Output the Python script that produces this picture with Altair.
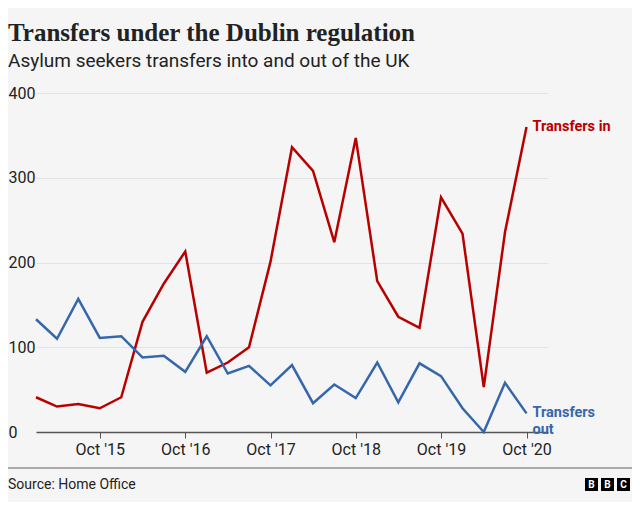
import altair as alt
import pandas as pd

# ---- data ----
quarters = [
    "2015-01-01", "2015-04-01", "2015-07-01", "2015-10-01",
    "2016-01-01", "2016-04-01", "2016-07-01", "2016-10-01",
    "2017-01-01", "2017-04-01", "2017-07-01", "2017-10-01",
    "2018-01-01", "2018-04-01", "2018-07-01", "2018-10-01",
    "2019-01-01", "2019-04-01", "2019-07-01", "2019-10-01",
    "2020-01-01", "2020-04-01", "2020-07-01", "2020-10-01",
]
transfers_in = [41, 30, 33, 28, 41, 130, 175, 213, 70, 82, 100, 201,
                336, 308, 224, 347, 178, 136, 123, 277, 234, 53, 236, 360]
transfers_out = [133, 110, 157, 111, 113, 88, 90, 71, 113, 69, 78, 55,
                 79, 34, 56, 40, 82, 35, 81, 66, 28, 0, 58, 22]
series_names = ["Transfers in", "Transfers out"]
series_labels = ["Transfers in", "Transfers\nout"]
series_colors = ["#b80000", "#3567ab"]
y_ticks = [0, 100, 200, 300, 400]
tick_years = [2015, 2016, 2017, 2018, 2019, 2020]
logo_letters = ["B", "B", "C"]

title_text = "Transfers under the Dublin regulation"
subtitle_text = "Asylum seekers transfers into and out of the UK"
source_text = "Source: Home Office"

# ---- tables ----
df = pd.concat([
    pd.DataFrame({"date": quarters, "value": transfers_in, "series": series_names[0]}),
    pd.DataFrame({"date": quarters, "value": transfers_out, "series": series_names[1]}),
])
end_df = pd.DataFrame({
    "date": [quarters[-1], quarters[-1]],
    "value": [transfers_in[-1], transfers_out[-1]],
    "series": series_names,
    "label": series_labels,
})
one = pd.DataFrame({"k": [0]})

W, H = 512, 339
PAD_L, PAD_T = 28, 85
SANS = "Roboto"

x_scale = alt.Scale(
    type="utc",
    domain=[alt.DateTime(year=2015, month=1, date=1, utc=True),
            alt.DateTime(year=2021, month=1, date=1, utc=True)],
)
y_scale = alt.Scale(domain=[0, 400])
color_scale = alt.Scale(domain=series_names, range=series_colors)

x_axis = alt.Axis(
    values=[alt.DateTime(year=y, month=10, date=1, utc=True) for y in tick_years],
    labelExpr="utcFormat(datum.value, \"%b '%y\")",
    grid=False, domainColor="#555555", domainWidth=1.5,
    tickColor="#555555", tickSize=6, labelPadding=3,
    labelFont=SANS, labelFontSize=16, labelColor="#222222", title=None,
)
y_axis = alt.Axis(
    values=y_ticks, grid=True, gridColor="#e3e3e3", domain=False,
    ticks=False, tickSize=0, labelAlign="left", labelBaseline="middle",
    labelPadding=PAD_L, labelFont=SANS, labelFontSize=16,
    labelColor="#222222", title=None,
)

base = alt.Chart(df)
lines = base.mark_line(strokeWidth=2.5).encode(
    x=alt.X("date:T", scale=x_scale, axis=x_axis),
    y=alt.Y("value:Q", scale=y_scale, axis=y_axis),
    color=alt.Color("series:N", scale=color_scale, legend=None),
)

end_labels = alt.Chart(end_df).mark_text(
    align="left", baseline="middle", dx=6, font=SANS, fontSize=14.5,
    fontWeight="bold", lineBreak="\n", lineHeight=17,
).encode(
    x=alt.X("date:T", scale=x_scale),
    y=alt.Y("value:Q", scale=y_scale),
    text="label:N",
    color=alt.Color("series:N", scale=color_scale, legend=None),
)

rule = alt.Chart(one).mark_rule(color="#aaaaaa", strokeWidth=2).encode(
    x=alt.value(-PAD_L), x2=alt.value(596), y=alt.value(375),
)
source = alt.Chart(one).mark_text(
    align="left", baseline="middle", font=SANS, fontSize=14, color="#222222",
).encode(x=alt.value(-PAD_L), y=alt.value(392), text=alt.value(source_text))

logo_layers = []
for i, letter in enumerate(logo_letters):
    cx = 549 + 16 * i + 6.5
    logo_layers.append(
        alt.Chart(one).mark_square(size=169, color="#000000", opacity=1).encode(
            x=alt.value(cx), y=alt.value(391.5)))
    logo_layers.append(
        alt.Chart(one).mark_text(
            font=SANS, fontSize=10, fontWeight="bold", color="#ffffff",
            align="center", baseline="middle",
        ).encode(x=alt.value(cx), y=alt.value(392), text=alt.value(letter)))

chart = alt.layer(lines, end_labels, rule, source, *logo_layers).properties(
    width=W, height=H,
    autosize=alt.AutoSizeParams(type="none"),
    padding={"left": PAD_L, "top": PAD_T, "right": 624 - PAD_L - W, "bottom": 70},
    background="#f5f5f5",
    title=alt.TitleParams(
        text=title_text, subtitle=subtitle_text, anchor="start", frame="group",
        dx=-PAD_L, offset=14, font="Liberation Serif", fontSize=25,
        fontWeight="bold", color="#222222", subtitleFont=SANS,
        subtitleFontSize=19, subtitleColor="#222222", subtitlePadding=6,
    ),
).configure_view(stroke=None)

chart.save("out.html", embed_options={"renderer": "svg", "actions": False})
